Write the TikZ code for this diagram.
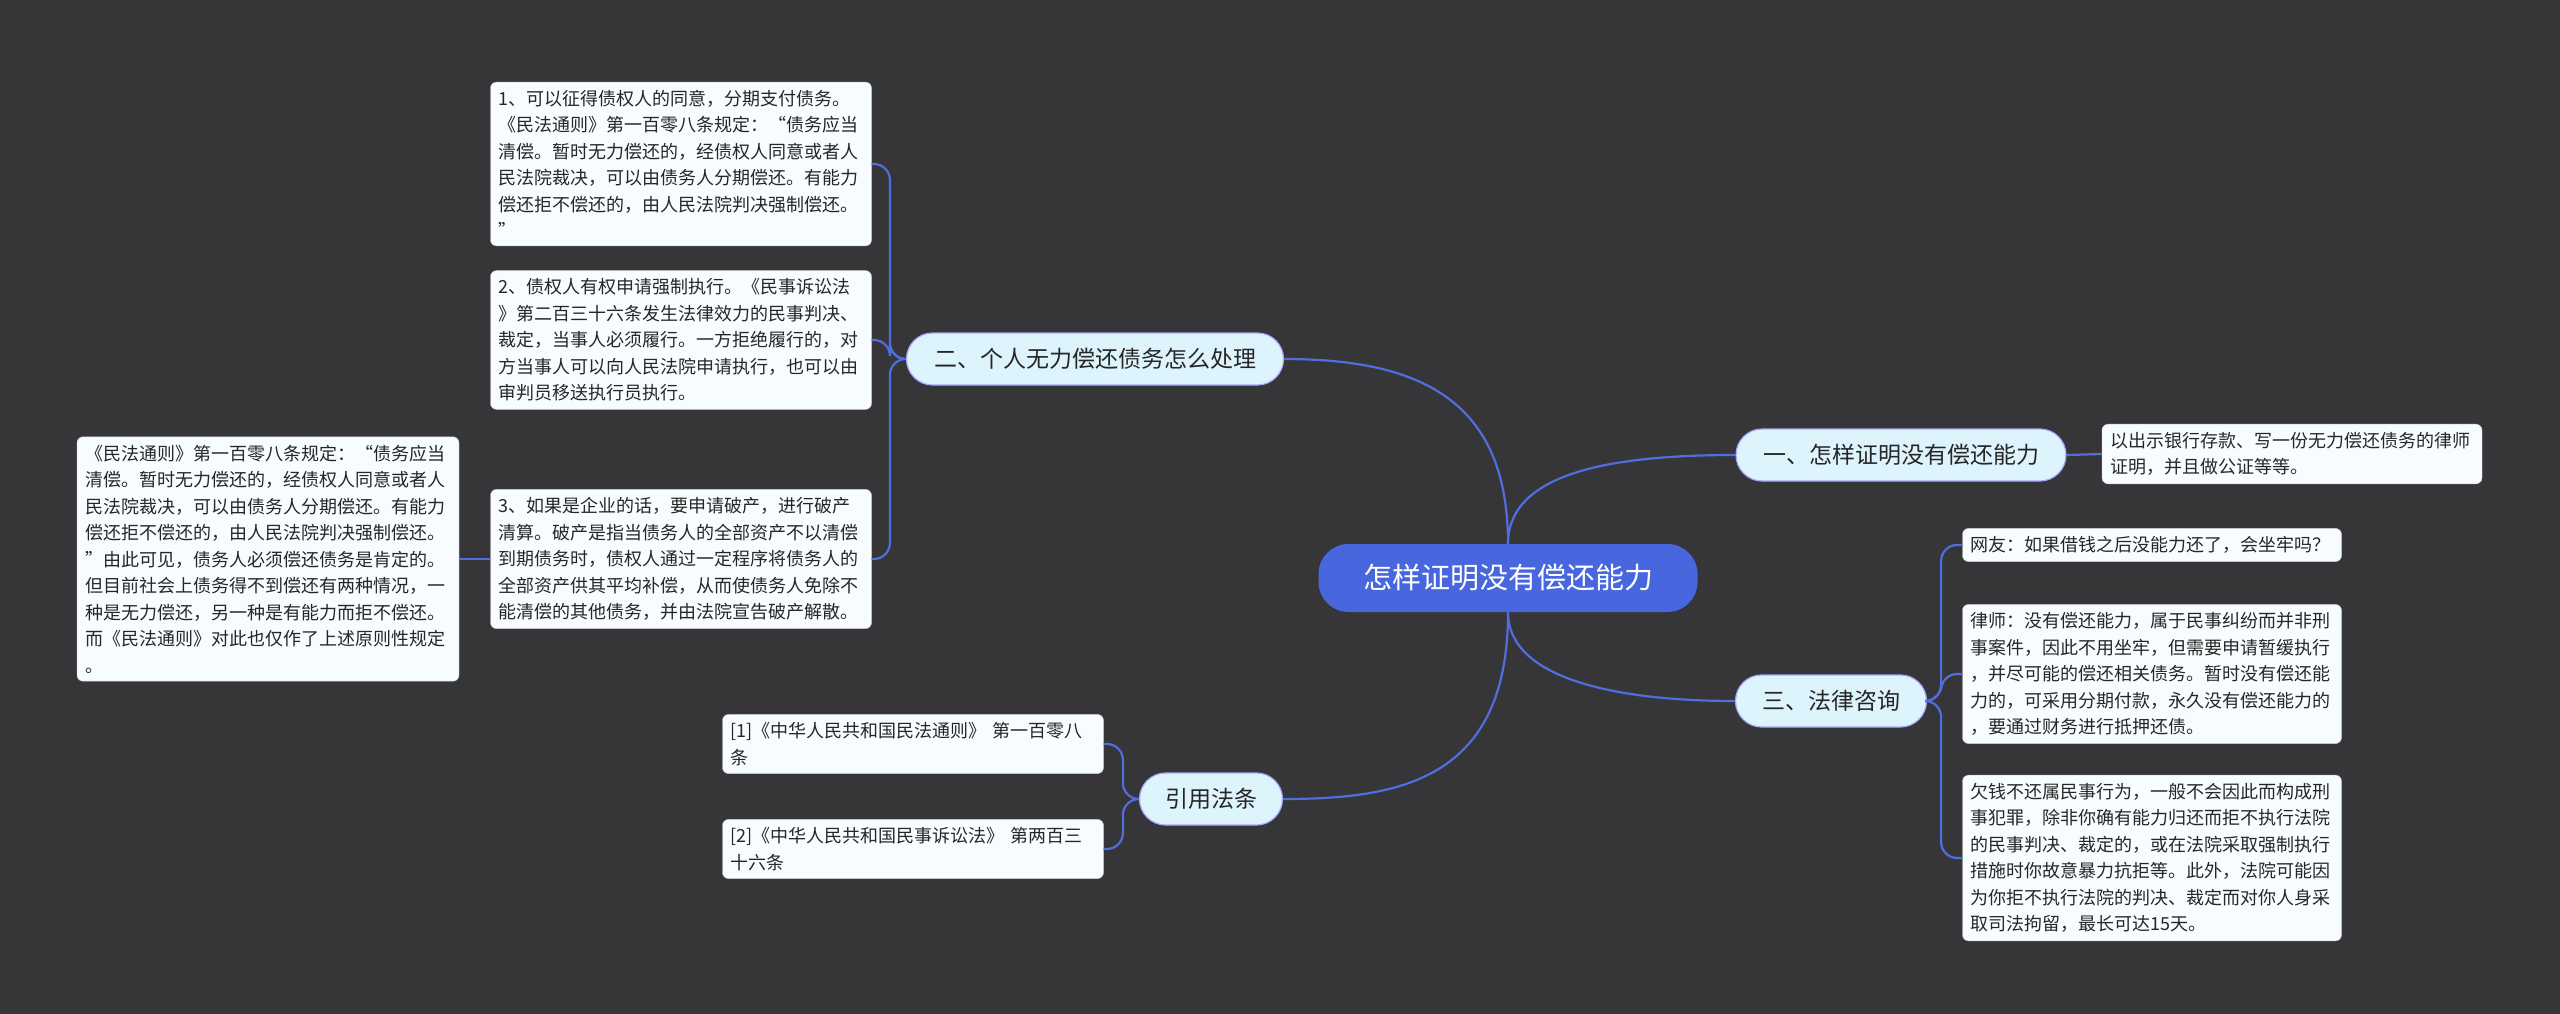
\documentclass[tikz,border=0pt]{standalone}
\usepackage{fontspec}
\setmainfont{Noto Sans CJK SC}
\begin{document}
\begin{tikzpicture}[x=1pt,y=-1pt,
  leaf/.style={draw=black!20,fill=cyan!3,rounded corners=6,inner sep=8,align=left,font=\fontsize{18}{26.5}\selectfont,text=black!85},
  pill/.style={draw=blue!35,line width=1.2,fill=cyan!13,rounded corners=26,inner sep=12,font=\fontsize{23}{28}\selectfont,text=black!85,minimum height=52},
  link/.style={draw={rgb,255:red,80;green,110;blue,220},line width=2.2}]
\definecolor{bg}{RGB}{54,53,56}
\fill[bg] (0,0) rectangle (2560,1014);
\useasboundingbox (0,0) rectangle (2560,1014);
\node[fill={rgb,255:red,72;green,102;blue,222},rounded corners=30,minimum width=379,minimum height=68,text=white,font=\fontsize{29}{34}\selectfont] (root) at (1508,578) {怎样证明没有偿还能力};
\node[pill,minimum width=377] (n2) at (1095,359) {二、个人无力偿还债务怎么处理};
\node[pill,minimum width=330] (n1) at (1901,455) {一、怎样证明没有偿还能力};
\node[pill,minimum width=191] (n3) at (1831,701) {三、法律咨询};
\node[pill,minimum width=143] (ref) at (1211,799) {引用法条};
\node[leaf,text width=364] (n1t) at (2292,454) {以出示银行存款、写一份无力偿还债务的律师\\证明，并且做公证等等。};
\node[leaf,text width=363] (q) at (2152,545) {网友：如果借钱之后没能力还了，会坐牢吗？};
\node[leaf,text width=363] (law) at (2152,674) {律师：没有偿还能力，属于民事纠纷而并非刑\\事案件，因此不用坐牢，但需要申请暂缓执行\\，并尽可能的偿还相关债务。暂时没有偿还能\\力的，可采用分期付款，永久没有偿还能力的\\，要通过财务进行抵押还债。};
\node[leaf,text width=363] (owe) at (2152,858) {欠钱不还属民事行为，一般不会因此而构成刑\\事犯罪，除非你确有能力归还而拒不执行法院\\的民事判决、裁定的，或在法院采取强制执行\\措施时你故意暴力抗拒等。此外，法院可能因\\为你拒不执行法院的判决、裁定而对你人身采\\取司法拘留，最长可达15天。};
\node[leaf,text width=365] (r1) at (913,744) {[1]《中华人民共和国民法通则》 第一百零八\\条};
\node[leaf,text width=365] (r2) at (913,849) {[2]《中华人民共和国民事诉讼法》 第两百三\\十六条};
\node[leaf,text width=365] (b1) at (681,164) {1、可以征得债权人的同意，分期支付债务。\\《民法通则》第一百零八条规定：“债务应当\\清偿。暂时无力偿还的，经债权人同意或者人\\民法院裁决，可以由债务人分期偿还。有能力\\偿还拒不偿还的，由人民法院判决强制偿还。\\”};
\node[leaf,text width=365] (b2) at (681,340) {2、债权人有权申请强制执行。《民事诉讼法\\》第二百三十六条发生法律效力的民事判决、\\裁定，当事人必须履行。一方拒绝履行的，对\\方当事人可以向人民法院申请执行，也可以由\\审判员移送执行员执行。};
\node[leaf,text width=365] (b3) at (681,559) {3、如果是企业的话，要申请破产，进行破产\\清算。破产是指当债务人的全部资产不以清偿\\到期债务时，债权人通过一定程序将债务人的\\全部资产供其平均补偿，从而使债务人免除不\\能清偿的其他债务，并由法院宣告破产解散。};
\node[leaf,text width=366] (bl) at (268,559) {《民法通则》第一百零八条规定：“债务应当\\清偿。暂时无力偿还的，经债权人同意或者人\\民法院裁决，可以由债务人分期偿还。有能力\\偿还拒不偿还的，由人民法院判决强制偿还。\\”由此可见，债务人必须偿还债务是肯定的。\\但目前社会上债务得不到偿还有两种情况，一\\种是无力偿还，另一种是有能力而拒不偿还。\\而《民法通则》对此也仅作了上述原则性规定\\。};
\draw[link] (root.north) .. controls (1508,400) and (1420,359) .. (n2.east);
\draw[link] (root.north) .. controls (1508,470) and (1620,455) .. (n1.west);
\draw[link] (root.south) .. controls (1508,680) and (1620,701) .. (n3.west);
\draw[link] (root.south) .. controls (1508,780) and (1400,799) .. (ref.east);
\draw[link] (n1.east) -- (n1t.west);
\draw[link,rounded corners=16] (n3.east) -- ++(14,0) |- (q.west);
\draw[link,rounded corners=16] (n3.east) -- ++(14,0) |- (law.west);
\draw[link,rounded corners=16] (n3.east) -- ++(14,0) |- (owe.west);
\draw[link,rounded corners=16] (n2.west) -- ++(-16,0) |- (b1.east);
\draw[link,rounded corners=16] (n2.west) -- ++(-16,0) |- (b2.east);
\draw[link,rounded corners=16] (n2.west) -- ++(-16,0) |- (b3.east);
\draw[link,rounded corners=16] (ref.west) -- ++(-16,0) |- (r1.east);
\draw[link,rounded corners=16] (ref.west) -- ++(-16,0) |- (r2.east);
\draw[link] (b3.west) -- (bl.east);
\end{tikzpicture}
\end{document}
